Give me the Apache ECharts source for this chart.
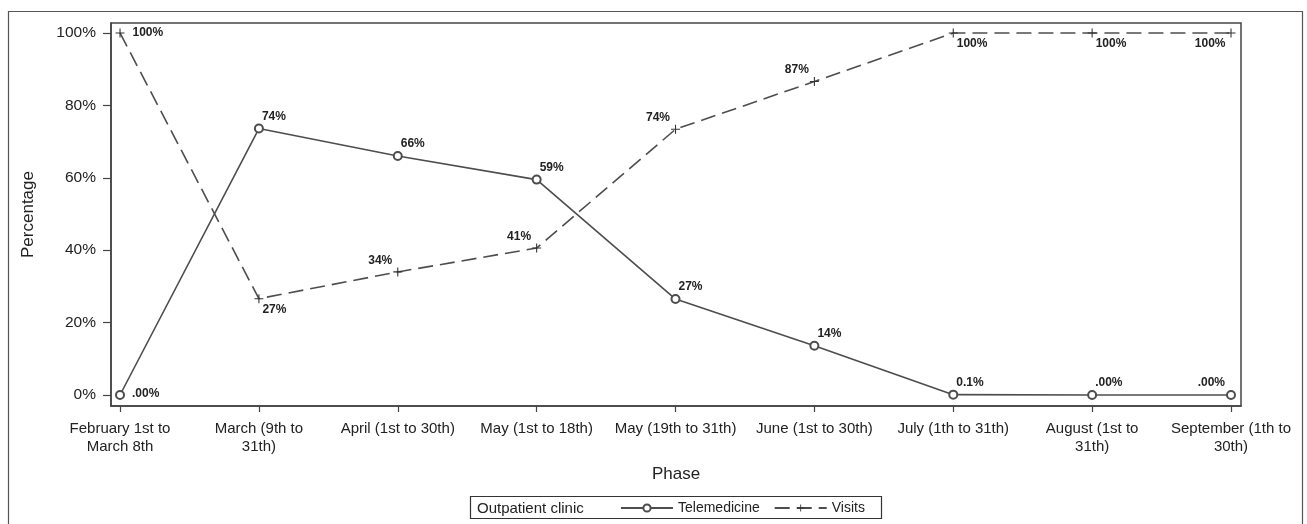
<!DOCTYPE html>
<html>
<head>
<meta charset="utf-8">
<script src="https://cdn.jsdelivr.net/npm/echarts@6/dist/echarts.min.js"></script>
<style>
  html, body { margin: 0; padding: 0; background: #fff; }
  #chart { width: 1307px; height: 524px; }
</style>
</head>
<body>
<div id="chart"></div>
<script>
// categories on the x axis
const phases = [
  "February 1st to\nMarch 8th",
  "March (9th to\n31th)",
  "April (1st to 30th)",
  "May (1st to 18th)",
  "May (19th to 31th)",
  "June (1st to 30th)",
  "July (1th to 31th)",
  "August (1st to\n31th)",
  "September (1th to\n30th)"
];
const yTicks = [0, 20, 40, 60, 80, 100];

// percentages
const telemedicine = [0, 73.6, 66, 59.5, 26.5, 13.6, 0.1, 0, 0];
const visits = [100, 26.6, 34, 40.6, 73.4, 86.6, 100, 100, 100];
const teleLabels = [".00%", "74%", "66%", "59%", "27%", "14%", "0.1%", ".00%", ".00%"];
const visitLabels = ["100%", "27%", "34%", "41%", "74%", "87%", "100%", "100%", "100%"];

// where each point label sits: r = right, ur = up-right, ul = up-left, lr = low-right, ll = low-left
const telePlace = ["r", "ur", "ur", "ur", "ur", "ur", "ur", "ur", "ul"];
const visitPlace = ["r", "lr", "ul", "ul", "ul", "ul", "lr", "lr", "ll"];

const ink = "#222";
const lineCol = "#4d4d4d";
const font = "Liberation Sans";

function labelFor(place) {
  switch (place) {
    case "r":  return { position: [17, 4], align: "left", verticalAlign: "middle" };
    case "ur": return { position: [8, -7], align: "left", verticalAlign: "middle" };
    case "ul": return { position: [-1, -7], align: "right", verticalAlign: "middle" };
    case "lr": return { position: [8, 15], align: "left", verticalAlign: "middle" };
    case "ll": return { position: [-1, 15], align: "right", verticalAlign: "middle" };
  }
}

function buildData(values, places) {
  return values.map((v, i) => ({
    value: [i, v],
    label: labelFor(places[i])
  }));
}

const plusPath = "path://M4.4,0H5.6V4.4H10V5.6H5.6V10H4.4V5.6H0V4.4H4.4Z";

const chart = echarts.init(document.getElementById("chart"));
chart.setOption({
  animation: false,
  textStyle: { fontFamily: font },
  grid: {
    left: 111, right: 66, top: 23, bottom: 118,
    show: true, borderColor: "#444", borderWidth: 1.5, backgroundColor: "transparent"
  },
  xAxis: {
    type: "value",
    min: -0.065,
    max: 8.072,
    name: "Phase",
    nameLocation: "middle",
    nameGap: 60,
    nameTextStyle: { fontSize: 17, color: ink, fontFamily: font },
    axisLine: { show: true, onZero: false, lineStyle: { color: "#444", width: 1.5 } },
    axisTick: {
      show: true, length: 6, inside: false,
      customValues: phases.map((p, i) => i),
      lineStyle: { color: "#444", width: 1.2 }
    },
    axisLabel: {
      customValues: phases.map((p, i) => i),
      formatter: (v) => phases[Math.round(v)],
      fontSize: 15, color: ink, fontFamily: font, lineHeight: 18, margin: 14
    },
    splitLine: { show: false }
  },
  yAxis: {
    type: "value",
    min: -3.04,
    max: 102.76,
    name: "Percentage",
    nameLocation: "middle",
    nameGap: 74,
    nameRotate: 90,
    nameTextStyle: { fontSize: 17, color: ink, fontFamily: font },
    axisLine: { show: true, onZero: false, lineStyle: { color: "#444", width: 1.5 } },
    axisTick: {
      show: true, length: 8,
      customValues: yTicks,
      lineStyle: { color: "#444", width: 1.2 }
    },
    axisLabel: {
      customValues: yTicks,
      formatter: (v) => v + "%",
      fontSize: 15.5, color: ink, fontFamily: font, margin: 15
    },
    splitLine: { show: false }
  },
  legend: {
    left: 615,
    top: 496,
    itemWidth: 52,
    itemHeight: 9,
    itemGap: 14,
    textStyle: { fontSize: 14, color: ink, fontFamily: font },
    data: ["Telemedicine", "Visits"]
  },
  graphic: [
    {
      type: "rect",
      shape: { x: 8.5, y: 11.5, width: 1294, height: 530 },
      style: { fill: "none", stroke: "#555", lineWidth: 1.2 },
      silent: true
    },
    {
      type: "rect",
      shape: { x: 470.5, y: 496.5, width: 411, height: 22 },
      style: { fill: "none", stroke: "#333", lineWidth: 1.2 },
      silent: true
    },
    {
      type: "text",
      x: 477,
      y: 509,
      style: { text: "Outpatient clinic", fontSize: 15, fill: ink, fontFamily: font, verticalAlign: "middle" }
    }
  ],
  series: [
    {
      name: "Telemedicine",
      type: "line",
      data: buildData(telemedicine, telePlace),
      symbol: "emptyCircle",
      symbolSize: 8,
      itemStyle: { color: lineCol, borderWidth: 1.3 },
      lineStyle: { color: lineCol, width: 1.6 },
      label: {
        show: true,
        formatter: (p) => teleLabels[p.dataIndex],
        fontSize: 12, fontWeight: "bold", color: "#222", fontFamily: font
      }
    },
    {
      name: "Visits",
      type: "line",
      data: buildData(visits, visitPlace),
      symbol: plusPath,
      symbolSize: 9,
      itemStyle: { color: "#333" },
      lineStyle: { color: lineCol, width: 1.6, type: [15, 7] },
      label: {
        show: true,
        formatter: (p) => visitLabels[p.dataIndex],
        fontSize: 12, fontWeight: "bold", color: "#222", fontFamily: font
      }
    }
  ]
});
</script>
</body>
</html>
